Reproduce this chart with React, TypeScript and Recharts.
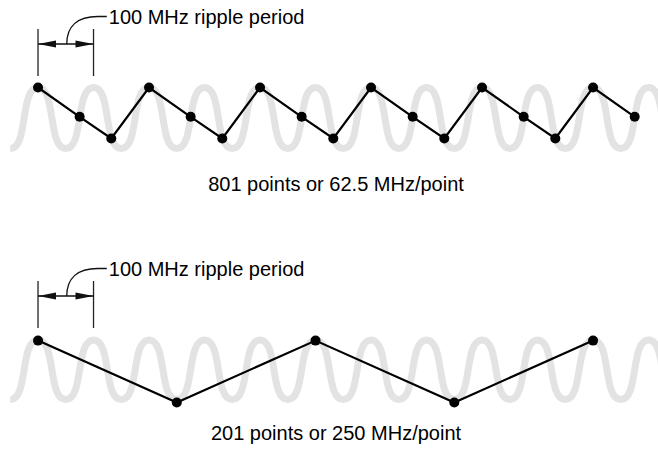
import {Line, LineChart, XAxis, YAxis} from 'recharts';

// frequency axis in MHz, one ripple period = 100 MHz
const X_MIN = -68.5;
const X_MAX = 1117;
const W = 658;
const H = 226;

// light grey ripple: alternating trough / crest positions (MHz) and levels
const rippleMHz = [-50, 0, 50, 100, 150, 200, 250, 300, 350, 400, 450, 500, 550, 600, 650, 700, 750, 800, 850, 900, 950, 1000, 1050, 1100, 1150];
const rippleLevel = [-1, 1, -1, 1, -1, 1, -1, 1, -1, 1, -1, 1, -1, 1, -1, 1, -1, 1, -1, 1, -1, 1, -1, 1, -1];

// 801 point sweep (62.5 MHz/point)
const denseMHz = [0, 75, 132, 200, 275, 332, 400, 475, 532, 600, 675, 732, 800, 875, 932, 1000, 1075];
const denseLevel = [1, 0.04, -0.67, 1, 0.04, -0.67, 1, 0.04, -0.67, 1, 0.04, -0.67, 1, 0.04, -0.67, 1, 0.04];

// 201 point sweep (250 MHz/point)
const sparseMHz = [0, 250, 500, 750, 1000];
const sparseLevel = [0.98, -1.1, 0.98, -1.1, 0.98];

const captions = ['801 points or 62.5 MHz/point', '201 points or 250 MHz/point'];
const periodLabel = '100 MHz ripple period';

const FONT = '"Liberation Sans", Arial, sans-serif';

const rippleData = rippleMHz.map((f, i) => ({f, v: rippleLevel[i]}));
const denseData = denseMHz.map((f, i) => ({f, v: denseLevel[i]}));
const sparseData = sparseMHz.map((f, i) => ({f, v: sparseLevel[i]}));

const px = (mhz: number) => ((mhz - X_MIN) / (X_MAX - X_MIN)) * W;

// curve with flat tangents at each point and a steep middle -> rounded, squarish ripple
const K = 0.66;
const squarishCurve = (context: any) => {
  let x0 = 0;
  let y0 = 0;
  let started = false;
  return {
    areaStart() {},
    areaEnd() {},
    lineStart() {
      started = false;
    },
    lineEnd() {},
    point(x: number, y: number) {
      x = +x;
      y = +y;
      if (!started) {
        context.moveTo(x, y);
        started = true;
      } else {
        const dx = x - x0;
        context.bezierCurveTo(x0 + K * dx, y0, x - K * dx, y, x, y);
      }
      x0 = x;
      y0 = y;
    },
  };
};

const renderDot = (p: any) => <circle key={`d-${p.index}`} cx={p.cx} cy={p.cy} r={5} fill="#000" />;

// dimension marker "100 MHz ripple period", y positions local to panel
function PeriodMarker({top}: {top: number}) {
  const x0 = px(0);
  const x1 = px(100);
  const mid = (x0 + x1) / 2;
  const ay = top + 20;
  return (
    <g>
      <line x1={x0} y1={top + 5} x2={x0} y2={top + 52} stroke="#222" strokeWidth={1.3} />
      <line x1={x1} y1={top + 5} x2={x1} y2={top + 52} stroke="#222" strokeWidth={1.3} />
      <line x1={x0} y1={ay} x2={x1} y2={ay} stroke="#111" strokeWidth={1.5} />
      <polygon points={`${x0},${ay} ${x0 + 18},${ay - 3.5} ${x0 + 18},${ay + 3.5}`} fill="#111" />
      <polygon points={`${x1},${ay} ${x1 - 18},${ay - 3.5} ${x1 - 18},${ay + 3.5}`} fill="#111" />
      <path
        d={`M${mid + 1} ${ay} C${mid + 1} ${top + 2} ${mid + 12} ${top - 7.5} ${mid + 32} ${top - 7.5} L${mid + 41} ${top - 7.5}`}
        fill="none"
        stroke="#111"
        strokeWidth={1.3}
      />
      <text x={mid + 43} y={top} fontSize={20} fontFamily={FONT} fill="#000">
        {periodLabel}
      </text>
    </g>
  );
}

function Panel({data, yDomain, caption, markerTop, captionY}: {
  data: {f: number; v: number}[];
  yDomain: [number, number];
  caption: string;
  markerTop: number;
  captionY: number;
}) {
  return (
    <LineChart width={W} height={H} margin={{top: 0, right: 0, bottom: 0, left: 0}}>
      <XAxis type="number" dataKey="f" domain={[X_MIN, X_MAX]} allowDataOverflow hide />
      <YAxis type="number" domain={yDomain} allowDataOverflow hide />
      <Line
        data={rippleData}
        dataKey="v"
        type={squarishCurve as any}
        stroke="#e3e3e3"
        strokeWidth={7}
        dot={false}
        activeDot={false}
        isAnimationActive={false}
      />
      <Line
        data={data}
        dataKey="v"
        type="linear"
        stroke="#000"
        strokeWidth={2.2}
        dot={renderDot}
        activeDot={false}
        isAnimationActive={false}
      />
      <PeriodMarker top={markerTop} />
      <text x={336} y={captionY} textAnchor="middle" fontSize={20} fontFamily={FONT} fill="#000">
        {caption}
      </text>
    </LineChart>
  );
}

export default function App() {
  return (
    <div style={{position: 'absolute', left: 0, top: 0, width: W, height: 452, background: '#fff'}}>
      <Panel data={denseData} yDomain={[-3.541, 3.869]} caption={captions[0]} markerTop={24} captionY={191} />
      <Panel data={sparseData} yDomain={[-2.765, 4.832]} caption={captions[1]} markerTop={50} captionY={214} />
    </div>
  );
}
